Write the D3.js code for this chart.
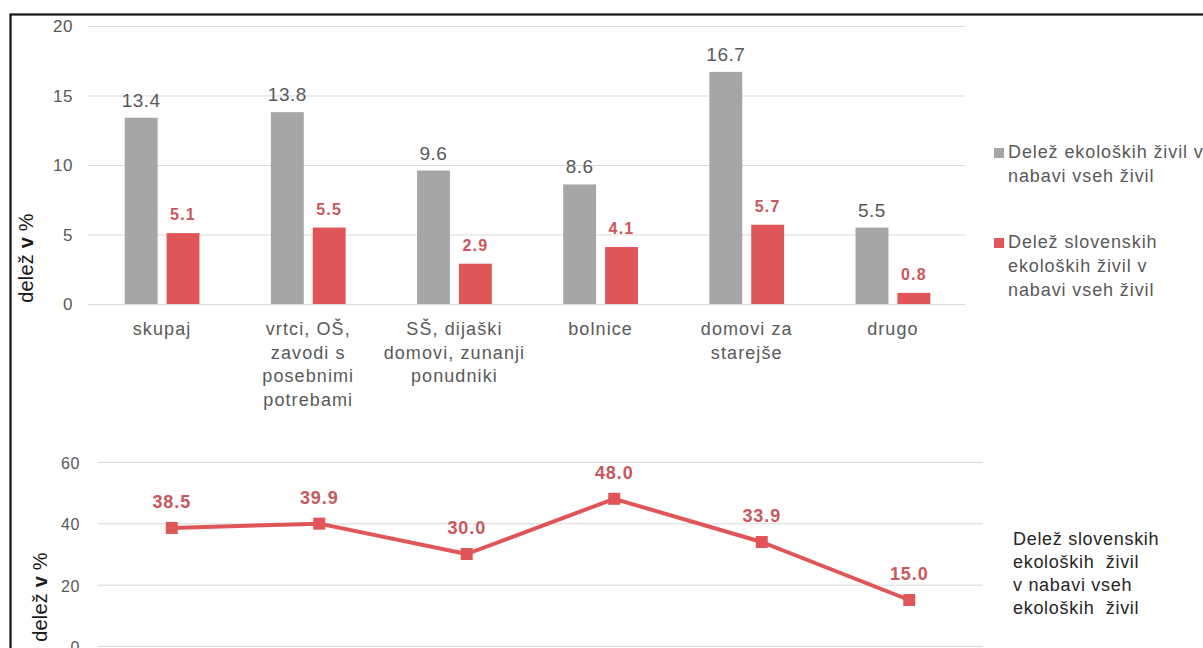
<!DOCTYPE html>
<html><head><meta charset="utf-8">
<script src="https://cdn.jsdelivr.net/npm/d3@7"></script>
<style>
body{margin:0;background:#fff;}
svg{display:block;font-family:"Liberation Sans",Arial,sans-serif;}
</style></head>
<body>
<script>
const categories = [["skupaj"],["vrtci, OŠ,","zavodi s","posebnimi","potrebami"],["SŠ, dijaški","domovi, zunanji","ponudniki"],["bolnice"],["domovi za","starejše"],["drugo"]];
const shareOrganic = [13.4,13.8,9.6,8.6,16.7,5.5];
const shareSlovenianOrganic = [5.1,5.5,2.9,4.1,5.7,0.8];
const shareSloInOrganic = [38.5,39.9,30.0,48.0,33.9,15.0];
const topTicks = [0,5,10,15,20];
const bottomTicks = [0,20,40,60];
const legendLabels = [["Delež ekoloških živil v","nabavi vseh živil"],["Delež slovenskih","ekoloških živil v","nabavi vseh živil"]];
const lineLabel = ["Delež slovenskih","ekoloških  živil","v nabavi vseh","ekoloških  živil"];
const axisTitle = ["delež ","v"," %"];

const W=1203,H=648;
const svg=d3.select("body").append("svg").attr("width",W).attr("height",H);
svg.append("rect").attr("width",W).attr("height",H).attr("fill","#fff");
// frame
svg.append("rect").attr("x",10.5).attr("y",14.5).attr("width",W+20).attr("height",H+20)
  .attr("fill","none").attr("stroke","#111").attr("stroke-width",2.2);

const grey="#a6a6a6", red="#e05558", redLbl="#c9575c", txt="#595959";
const idx=d3.range(categories.length);

function axisTitleAt(x,y){
  const t=svg.append("text").attr("transform",`translate(${x},${y}) rotate(-90)`).attr("text-anchor","middle")
    .attr("font-size",20).attr("letter-spacing",0.2).attr("fill","#1a1a1a");
  axisTitle.forEach((s,k)=>t.append("tspan").attr("font-weight",k===1?"bold":"normal").attr("xml:space","preserve").text(s));
}

// ---------- top chart ----------
const x0=d3.scaleBand().domain(idx).range([89,966]);
const x1=d3.scaleBand().domain([0,1]).range([0,x0.bandwidth()]).paddingInner(0.214).paddingOuter(0.853);
const y=d3.scaleLinear().domain([0,20]).range([304,26]);

const gT=svg.append("g");
gT.selectAll("line.grid").data(topTicks).join("line")
  .attr("x1",88).attr("x2",965).attr("y1",d=>y(d)+0.5).attr("y2",d=>y(d)+0.5)
  .attr("stroke","#d9d9d9").attr("stroke-width",1);
gT.selectAll("text.tick").data(topTicks).join("text")
  .attr("x",73).attr("y",d=>y(d)+6).attr("text-anchor","end")
  .attr("font-size",17).attr("letter-spacing",0.6).attr("fill",txt).text(d=>d);

const series=[shareOrganic,shareSlovenianOrganic];
series.forEach((vals,s)=>{
  gT.selectAll("rect.s"+s).data(idx).join("rect")
    .attr("x",i=>x0(i)+x1(s)).attr("width",x1.bandwidth())
    .attr("y",i=>y(vals[i])).attr("height",i=>y(0)-y(vals[i]))
    .attr("fill",s===0?grey:red);
  gT.selectAll("text.v"+s).data(idx).join("text")
    .attr("x",i=>x0(i)+x1(s)+x1.bandwidth()/2).attr("y",i=>y(vals[i])-(s===0?11:13))
    .attr("text-anchor","middle")
    .attr("font-size",s===0?19:16).attr("font-weight",s===0?"normal":"bold")
    .attr("letter-spacing",s===0?0.5:1.2)
    .attr("fill",s===0?txt:redLbl).text(i=>vals[i].toFixed(1));
});
// category labels
idx.forEach(i=>{
  const t=gT.append("text").attr("text-anchor","middle").attr("font-size",18).attr("letter-spacing",1.1).attr("fill",txt);
  categories[i].forEach((line,k)=>{
    t.append("tspan").attr("x",x0(i)+x0.bandwidth()/2).attr("y",335+k*23.5).text(line);
  });
});
axisTitleAt(33,258);

// legend
const legColors=[grey,red];
const legY=[158,248];
legendLabels.forEach((lines,j)=>{
  svg.append("rect").attr("x",994).attr("y",legY[j]-10).attr("width",10).attr("height",10).attr("fill",legColors[j]);
  const t=svg.append("text").attr("font-size",18).attr("letter-spacing",0.9).attr("fill",txt);
  lines.forEach((l,k)=>t.append("tspan").attr("x",1008).attr("y",legY[j]+k*24).text(l));
});

// ---------- bottom chart ----------
const xb=d3.scaleBand().domain(idx).range([98,983]);
const yb=d3.scaleLinear().domain([0,60]).range([646,462]);
const gB=svg.append("g");
gB.selectAll("line.grid").data(bottomTicks).join("line")
  .attr("x1",98).attr("x2",983).attr("y1",d=>yb(d)+0.5).attr("y2",d=>yb(d)+0.5)
  .attr("stroke","#d9d9d9").attr("stroke-width",1);
gB.selectAll("text.tick").data(bottomTicks).join("text")
  .attr("x",80).attr("y",d=>yb(d)+7).attr("text-anchor","end")
  .attr("font-size",16).attr("letter-spacing",0.6).attr("fill",txt).text(d=>d);
const line=d3.line().x(i=>xb(i)+xb.bandwidth()/2).y(i=>yb(shareSloInOrganic[i]));
gB.append("path").datum(idx).attr("d",line).attr("fill","none").attr("stroke",red)
  .attr("stroke-width",4).attr("stroke-linejoin","round");
gB.selectAll("rect.m").data(idx).join("rect")
  .attr("x",i=>xb(i)+xb.bandwidth()/2-6).attr("y",i=>yb(shareSloInOrganic[i])-6)
  .attr("width",12).attr("height",12).attr("fill",red);
gB.selectAll("text.v").data(idx).join("text")
  .attr("x",i=>xb(i)+xb.bandwidth()/2).attr("y",i=>yb(shareSloInOrganic[i])-20)
  .attr("text-anchor","middle").attr("font-size",18).attr("font-weight","bold").attr("letter-spacing",0.9)
  .attr("fill",redLbl).text(i=>shareSloInOrganic[i].toFixed(1));
axisTitleAt(47,597);
const lt=svg.append("text").attr("font-size",18).attr("letter-spacing",0.7).attr("fill","#262626");
lineLabel.forEach((l,k)=>lt.append("tspan").attr("x",1013).attr("y",545+k*23).attr("xml:space","preserve").text(l));
</script>
</body></html>
